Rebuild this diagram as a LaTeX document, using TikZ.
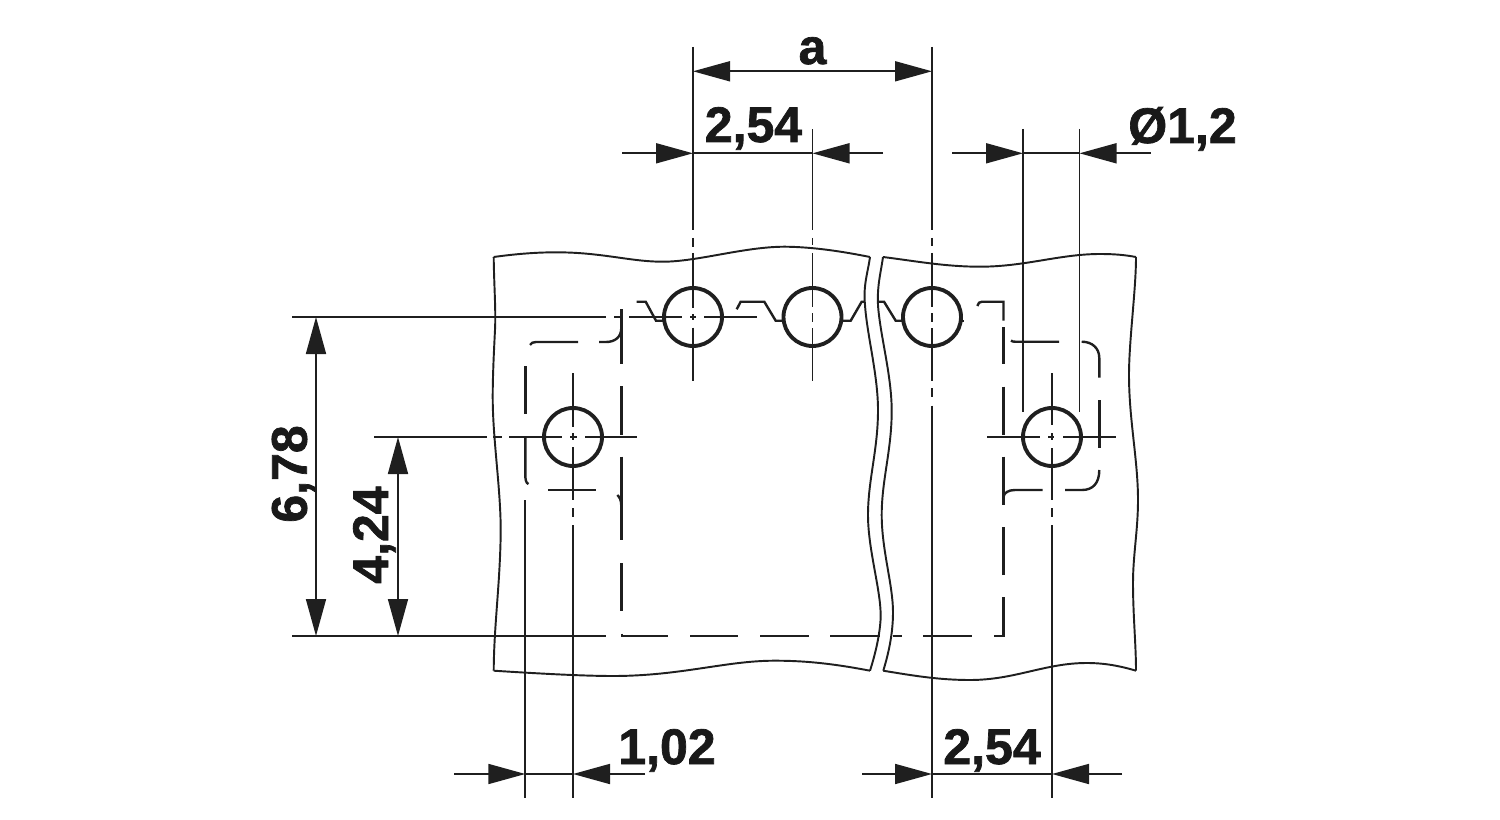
\documentclass[tikz,border=0pt]{standalone}
\usepackage{fontspec}
\setmainfont{Liberation Sans}[BoldFeatures={FakeBold=1.4}]
\usetikzlibrary{arrows.meta}
\tikzset{
  thinl/.style={line width=1.3pt,draw=black!88},
  hid/.style={line width=1.8pt,draw=black!88},
  outl/.style={line width=1.45pt,draw=black!88},
  hole/.style={circle,draw=black!88,line width=2.9pt,minimum size=43.5pt,inner sep=0pt,outer sep=0pt},
  dimt/.style={font=\bfseries\fontsize{37.5pt}{37.5pt}\selectfont,text=black!90,inner sep=0pt,anchor=base},
  arr/.tip={Triangle[length=27.75pt,width=15pt,inset=0pt]},
  dim/.style={thinl,fill=none,arrows={arr-arr}},
}
\begin{document}
\begin{tikzpicture}[x=0.75pt,y=-0.75pt,line cap=butt,line join=miter]
\useasboundingbox (0,0) rectangle (1500,820);
% block outlines
\draw[outl] (493.7,257) .. controls (530,252) and (560,251) .. (590,254) .. controls (620,257) and (640,262) .. (665,261.7) .. controls (700,261) and (745,246.7) .. (785,246.7) .. controls (815,247) and (845,252) .. (870,257);
\draw[outl] (870,257) .. controls (868,272) and (863,285) .. (865,305) .. controls (867,335) and (878,375) .. (878,410) .. controls (878,450) and (868,480) .. (868,515) .. controls (868,550) and (881,590) .. (880.7,617) .. controls (880,635) and (875,655) .. (870,670.7);
\draw[outl] (493.7,670.7) .. controls (530,673) and (580,676) .. (613,676) .. controls (680,676) and (725,661) .. (773,660.7) .. controls (810,660.5) and (840,665) .. (870,670.7);
\draw[outl] (493.7,257) .. controls (494,285) and (496,310) .. (495,330) .. controls (494,350) and (492.7,375) .. (492.7,397) .. controls (492.7,440) and (501,490) .. (500.7,533) .. controls (500,585) and (494,625) .. (493.7,670.7);
\draw[outl] (883,257) .. controls (915,261) and (945,266.7) .. (980,266.7) .. controls (1025,266.7) and (1060,254) .. (1100,254) .. controls (1115,254) and (1125,255) .. (1136,257);
\draw[outl] (1136,257) .. controls (1136,290) and (1129,340) .. (1129,375) .. controls (1129,420) and (1138,460) .. (1138,500) .. controls (1138,530) and (1133,555) .. (1133,583) .. controls (1133,615) and (1136,645) .. (1136,670.7);
\draw[outl] (883.3,670.7) .. controls (915,676) and (940,680) .. (970,680) .. controls (1015,680) and (1045,663) .. (1086.7,663) .. controls (1105,663) and (1120,666) .. (1136,670.7);
\draw[outl] (883,257) .. controls (881,272) and (877,285) .. (878,305) .. controls (880,335) and (891.7,375) .. (891.7,411) .. controls (891.7,450) and (881.7,480) .. (881.7,515) .. controls (881.7,550) and (893,585) .. (893,612) .. controls (893,635) and (888,655) .. (883.3,670.7);
% corrugation
\draw[hid] (636.7,301.7)--(645.7,301.7)--(656,320.7)--(664.3,320.7);
\draw[hid] (736.7,309.3)--(740.7,301.7)--(764.3,301.7)--(775.7,320.7)--(784,320.7);
\draw[hid] (841.7,320.7)--(850.7,320.7)--(861.7,301.7)--(865,301.7);
\draw[hid] (878.3,301.7)--(884,301.7)--(895.7,320.7)--(905,320.7);
\draw[hid] (960,320.7)--(963.5,320.7);
% hidden contour, left
\draw[hid] (525.3,366)--(525.3,414);
\draw[hid] (525.3,437)--(525.3,474) .. controls (525.3,480) and (526,483) .. (528.5,484);
\draw[hid] (530,345) .. controls (531,343) and (533,342) .. (536,342) -- (578,342);
\draw[hid] (599,342)--(606,342) .. controls (615,342) and (621.3,337) .. (621.3,328);
\draw[hid] (621.3,309)--(621.3,364) (621.3,386)--(621.3,435) (621.3,456.7)--(621.3,540) (621.3,563)--(621.3,611);
\draw[hid] (617.3,495) .. controls (619.5,497) and (621.3,500) .. (621.3,506);
\draw[hid] (548,490)--(596,490);
\draw[hid] (621.7,633.5)--(621.7,636)--(667.7,636) (690,636)--(738,636) (760,636)--(809,636) (830,636)--(880,636) (893,636)--(902,636) (923,636)--(972,636);
\draw[hid] (994,636)--(1003.5,636)--(1003.5,597) (1003.5,575)--(1003.5,527);
% hidden contour, right
\draw[hid] (977.3,306) .. controls (978.3,303) and (979.5,301.7) .. (982,301.7) -- (1003.5,301.7) -- (1003.5,320.7);
\draw[hid] (1003.5,327)--(1003.5,364) (1003.5,386.7)--(1003.5,435);
\draw[hid] (1003.5,456.7)--(1003.5,505);
\draw[hid] (1003.5,497) .. controls (1004,493) and (1008,490) .. (1015,490) -- (1042.7,490);
\draw[hid] (1065,490)--(1082,490) .. controls (1093,490) and (1099.3,483) .. (1099.3,470);
\draw[hid] (1099.3,400)--(1099.3,448);
\draw[hid] (1099.3,377.7)--(1099.3,358) .. controls (1099.3,348) and (1092,341.7) .. (1081.7,341.7);
\draw[hid] (1011,340.5) .. controls (1012,341.5) and (1013,341.7) .. (1015,341.7) -- (1059,341.7);
% centre and witness lines
\draw[thinl] (693,47)--(693,230) (693,238)--(693,247) (693,253)--(693,308) (693,314)--(693,320) (693,327.7)--(693,380.7);
\draw[thinl] (812.5,129.3)--(812.5,230) (812.5,238)--(812.5,245) (812.5,253)--(812.5,307) (812.5,313)--(812.5,322) (812.5,328)--(812.5,380.7);
\draw[thinl] (932,47)--(932,230) (932,238)--(932,246) (932,253)--(932,307) (932,313)--(932,322) (932,328)--(932,381) (932,388)--(932,397) (932,405.7)--(932,798);
\draw[thinl] (573,373)--(573,427) (573,433)--(573,440) (573,447)--(573,500) (573,508)--(573,517) (573,525)--(573,798);
\draw[thinl] (1052,373)--(1052,425) (1052,433)--(1052,440) (1052,448)--(1052,500) (1052,508)--(1052,517) (1052,525)--(1052,798);
\draw[thinl] (1023,129)--(1023,411.7) (1079.5,129)--(1079.5,411.7);
\draw[thinl] (525.3,500)--(525.3,798);
\draw[thinl] (292,317)--(606,317) (614,317)--(622,317) (629,317)--(682,317) (690,317)--(696,317) (704,317)--(757,317);
\draw[thinl] (374.3,437)--(487,437) (493,437)--(502,437) (509,437)--(562,437) (570,437)--(577,437) (585,437)--(637,437);
\draw[thinl] (987,437)--(1040,437) (1048,437)--(1054,437) (1063,437)--(1115.7,437);
\draw[thinl] (292,636)--(606,636);
% holes
\node[hole] (h1) at (693,317) {};
\node[hole] (h2) at (812.5,317) {};
\node[hole] (h3) at (932,317) {};
\node[hole] (h4) at (573,437) {};
\node[hole] (h5) at (1052,437) {};
% dimensions
\draw[dim] (693,71.3)--(932,71.3);
\draw[thinl,-{arr}] (622,153.3)--(693,153.3);
\draw[thinl] (693,153.3)--(812.5,153.3);
\draw[thinl,-{arr}] (883,153.3)--(812.5,153.3);
\draw[thinl,-{arr}] (952,153.3)--(1023,153.3);
\draw[thinl] (1023,153.3)--(1079.5,153.3);
\draw[thinl,-{arr}] (1150.7,153.3)--(1079.5,153.3);
\draw[dim] (316,317)--(316,636);
\draw[dim] (398,437)--(398,636);
\draw[thinl,-{arr}] (454,774)--(525.3,774);
\draw[thinl] (525.3,774)--(573,774);
\draw[thinl,-{arr}] (645,774)--(573,774);
\draw[thinl,-{arr}] (862,774)--(932,774);
\draw[thinl] (932,774)--(1052,774);
\draw[thinl,-{arr}] (1122,774)--(1052,774);
% labels
\node[dimt] (ta) at (812.5,64) {a};
\node[dimt] (t1) at (753.5,142) {2,54};
\node[dimt] (t2) at (1182.5,143) {Ø1,2};
\node[dimt,rotate=90] (t3) at (306.7,474) {6,78};
\node[dimt,rotate=90] (t4) at (388,535) {4,24};
\node[dimt] (t5) at (667,764) {1,02};
\node[dimt] (t6) at (992,764) {2,54};
\end{tikzpicture}
\end{document}
